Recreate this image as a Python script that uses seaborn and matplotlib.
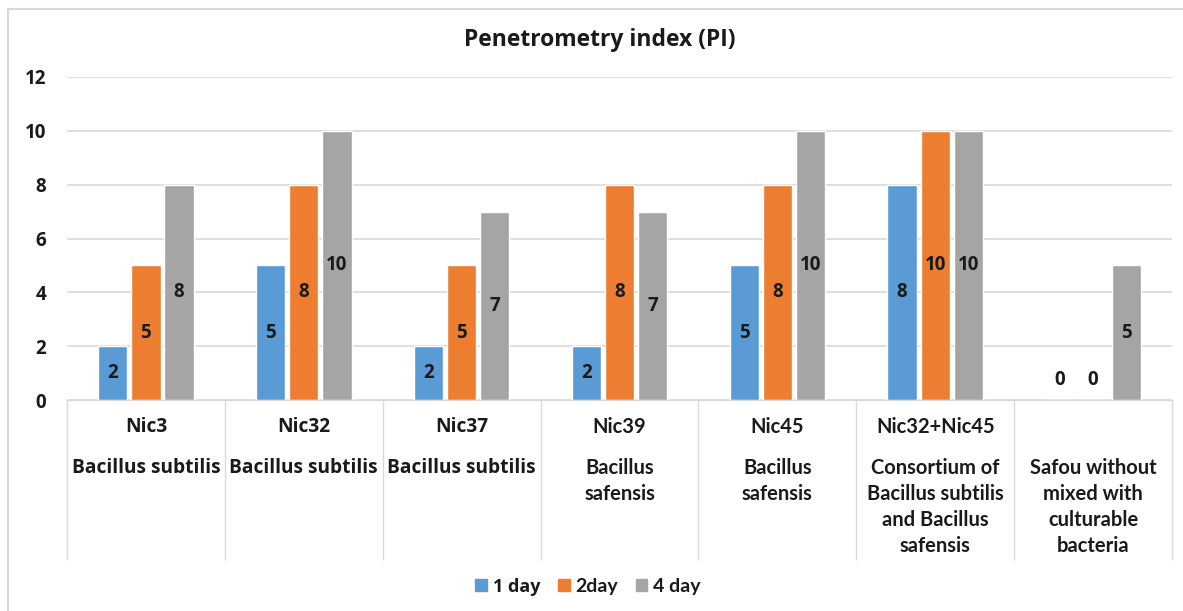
import matplotlib
matplotlib.use("Agg")
import matplotlib.pyplot as plt
import matplotlib.transforms as mtransforms
from matplotlib.patches import Rectangle
import numpy as np
import pandas as pd
import seaborn as sns

# -----------------------------------------------------------------
# Data
# -----------------------------------------------------------------
strains = ["Nic3", "Nic32", "Nic37", "Nic39", "Nic45", "Nic32+Nic45", ""]
descriptions = [
    ["Bacillus subtilis"],
    ["Bacillus subtilis"],
    ["Bacillus subtilis"],
    ["Bacillus", "safensis"],
    ["Bacillus", "safensis"],
    ["Consortium of", "Bacillus subtilis", "and Bacillus", "safensis"],
    ["Safou without", "mixed with", "culturable", "bacteria"],
]
day_labels = ["1 day", "2day", "4 day"]
day1 = [2, 5, 2, 2, 5, 8, 0]
day2 = [5, 8, 5, 8, 8, 10, 0]
day4 = [8, 10, 7, 7, 10, 10, 5]
y_ticks = [0, 2, 4, 6, 8, 10, 12]

keys = [f"{s}|{' '.join(d)}" for s, d in zip(strains, descriptions)]
df = pd.DataFrame({
    "group": keys * 3,
    "day": np.repeat(day_labels, len(keys)),
    "PI": day1 + day2 + day4,
})

palette = {"1 day": "#5B9BD5", "2day": "#ED7D31", "4 day": "#A5A5A5"}
WIDE = "Open Sans"
NARROW = "Lato"
TXT = "#1a1a1a"
GRID = "#d9d9d9"

sns.set_style("white")
plt.rcParams["font.family"] = [WIDE, "DejaVu Sans"]

fig = plt.figure(figsize=(11.83, 6.11), dpi=100)
ax = fig.add_axes([67 / 1183, 1 - 400 / 611, (1172 - 67) / 1183, 323 / 611])

sns.barplot(data=df, x="group", y="PI", hue="day", palette=palette,
            width=0.63, gap=0.12, ax=ax, legend=False, saturation=1)

ax.set_ylim(0, 12)
ax.set_xlim(-0.5, len(keys) - 0.5)
ax.set_yticks(y_ticks)
ax.set_yticklabels([str(t) for t in y_ticks], fontsize=13.5, fontweight="bold", color=TXT)
ax.tick_params(axis="y", length=0, pad=15)
ax.set_xticks([])
ax.set_xlabel("")
ax.set_ylabel("")
for s in ["top", "right", "left"]:
    ax.spines[s].set_visible(False)
ax.spines["bottom"].set_color(GRID)
ax.grid(axis="y", color=GRID, linewidth=1.2)
ax.set_axisbelow(True)

# value labels in the middle of each bar
for cont, vals in zip(ax.containers, [day1, day2, day4]):
    for p, v in zip(cont.patches, vals):
        ax.text(p.get_x() + p.get_width() / 2, max(v / 2, 0.75), str(v),
                ha="center", va="center", fontsize=13.5, fontweight="bold", color=TXT)

# category label area with separators
trans = mtransforms.blended_transform_factory(ax.transData, ax.transAxes)
bounds = np.arange(-0.5, len(keys), 1.0)
ax.vlines(bounds, -160 / 323, 0, transform=trans, colors=GRID, linewidth=1, clip_on=False)

wide_idx = {0, 1, 2}
for i, (s, lines) in enumerate(zip(strains, descriptions)):
    fam = [WIDE, "DejaVu Sans"] if i in wide_idx else [NARROW, "DejaVu Sans"]
    fs = 13.8 if i in wide_idx else 14.5
    if s:
        ax.text(i, -27 / 323, s, transform=trans, ha="center", va="center",
                fontsize=fs, fontweight="bold", color=TXT, family=fam)
    for j, line in enumerate(lines):
        ax.text(i, -(68 + 26 * j) / 323, line, transform=trans, ha="center", va="center",
                fontsize=fs, fontweight="bold", color=TXT, family=fam)

fig.text(0.507, 1 - 40 / 611, "Penetrometry index (PI)", ha="center", va="center",
         fontsize=16.5, fontweight="bold", color=TXT)

handles = [Rectangle((0, 0), 1, 1, color=palette[d]) for d in day_labels]
leg = fig.legend(handles, day_labels, loc="center", bbox_to_anchor=(0.497, 1 - 587 / 611),
                 ncol=3, frameon=False, handlelength=0.6, handleheight=0.6,
                 handletextpad=0.3, columnspacing=0.9, fontsize=14)
for t in leg.get_texts():
    t.set_fontweight("bold")
    t.set_color(TXT)
leg.get_texts()[0].set_family([WIDE, "DejaVu Sans"])
leg.get_texts()[0].set_fontsize(13)
for t in leg.get_texts()[1:]:
    t.set_family([NARROW, "DejaVu Sans"])

# outer chart border
fig.patches.append(Rectangle((8 / 1183, -0.1), 1.2, 1 - 9 / 611 + 0.1, transform=fig.transFigure,
                             fill=False, edgecolor=GRID, linewidth=1.5))

fig.savefig("out.png", dpi=100)
